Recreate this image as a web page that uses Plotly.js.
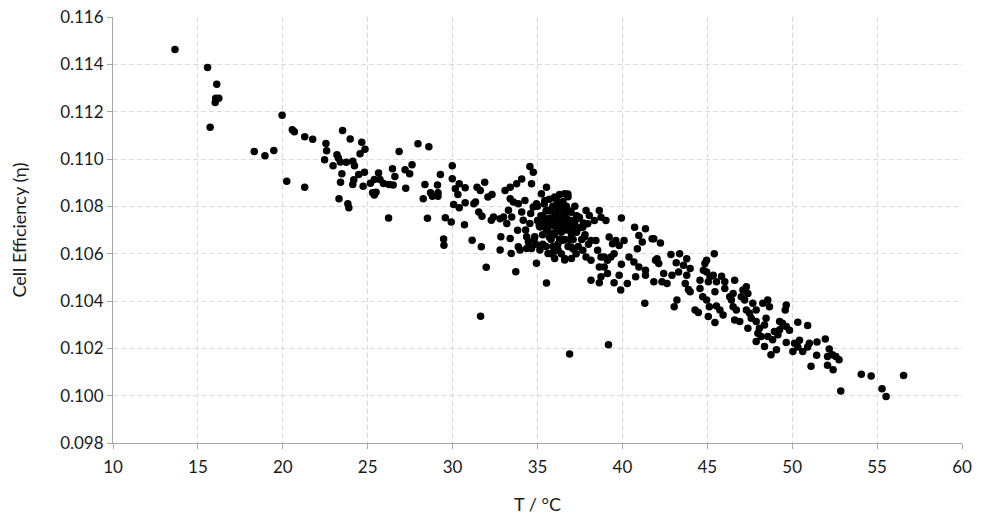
<!DOCTYPE html>
<html>
<head>
<meta charset="utf-8">
<script src="https://cdn.plot.ly/plotly-3.0.1.min.js"></script>
<style>html,body{margin:0;padding:0;background:#fff;}#chart{width:992px;height:526px;}</style>
</head>
<body>
<div id="chart"></div>
<script>
// Temperature (°C) and cell efficiency
const temperatureA = [13.65,15.57,16.11,16.23,16.05,16.02,15.72,19.96,20.56,20.68,21.29,21.76,22.54,22.58,22.46,18.32,18.95,19.47,20.23,21.29];
const efficiencyA  = [0.11463,0.11387,0.11316,0.11257,0.11257,0.11239,0.11134,0.11185,0.11124,0.11115,0.11094,0.11083,0.11066,0.11035,0.10997,0.11032,0.11014,0.11036,0.10906,0.10881];

const temperatureB = [23.52,23.97,24.65,24.84,24.55,23.19,23.27,22.96,23.39,23.74,24.12,24.22,23.48,23.40,24.18,24.12,24.47,24.81,24.73,23.31,23.83,23.89,
  25.16,25.39,25.64,25.72,25.93,25.29,25.49,25.39,26.26,26.50,26.60,26.46,26.85,27.20,27.47,27.61,27.24,26.23,
  27.96,28.60,28.37,28.27,28.70,28.81,29.11,29.14,29.14,29.28,28.52,29.57,29.92,29.47,29.49,
  29.98,29.98,30.39,30.16,30.31,30.74,30.74,30.06,30.39,30.70];
const efficiencyB  = [0.1112,0.11085,0.11071,0.11041,0.11022,0.11018,0.11004,0.10972,0.10987,0.10986,0.1099,0.10972,0.10938,0.10902,0.10912,0.10892,0.10934,0.10944,0.10885,0.10832,0.10811,0.10794,
  0.10898,0.10913,0.10941,0.10913,0.10897,0.10857,0.1086,0.10848,0.10892,0.1089,0.10926,0.10959,0.11032,0.10955,0.10938,0.10976,0.10876,0.10751,
  0.11064,0.11052,0.10892,0.10832,0.10857,0.10843,0.1089,0.10857,0.10843,0.10934,0.1075,0.10752,0.10734,0.10662,0.10636,
  0.10972,0.10917,0.10895,0.10874,0.1085,0.10878,0.10815,0.10808,0.10794,0.10722];

const temperatureC = [31.15,31.69,31.98,31.65,31.35,31.44,31.63,31.89,32.08,32.32,31.25,31.54,31.73,32.28,32.41,
  32.84,32.80,33.39,33.45,33.72,33.87,33.97,34.36,34.46,34.36,34.65,34.94,35.53,34.84,33.83,33.48,32.80,33.00,33.19,33.29,
  33.09,33.39,33.39,33.58,33.77,33.87,34.07,34.26,34.07,34.16,34.55,34.55,34.75,34.65,34.75,34.94,35.14,35.14,
  35.23,35.53,35.43,35.62,35.72,35.82,35.62,36.01,36.21,36.01,36.21,36.40,36.60,36.21,36.01,36.60,36.50,36.60,35.33,35.53];
const efficiencyC  = [0.10657,0.10629,0.10543,0.10336,0.10818,0.10881,0.10867,0.10902,0.10839,0.1085,0.10811,0.10776,0.10758,0.10741,0.10755,
  0.10671,0.10615,0.10664,0.10601,0.10524,0.10629,0.10615,0.10671,0.1065,0.10622,0.10622,0.10559,0.10476,0.10671,0.10699,0.10755,0.10748,0.10755,0.10727,0.10783,
  0.10867,0.10881,0.10832,0.10818,0.10895,0.10811,0.10916,0.10825,0.10776,0.10741,0.10727,0.10968,0.10944,0.10895,0.10797,0.10811,0.10713,0.10615,
  0.10853,0.10881,0.10825,0.10783,0.10741,0.10685,0.10601,0.1058,0.10615,0.10839,0.10797,0.10755,0.10713,0.10713,0.10755,0.10853,0.10657,0.10573,0.10755,0.10699];

const temperatureD = [36.89,39.18,41.32,36.79,36.98,37.08,36.98,37.28,37.18,37.47,37.67,37.86,38.05,37.96,38.15,37.76,37.67,37.86,38.15,38.35,
  38.44,38.64,38.74,38.54,38.74,38.64,39.03,39.22,39.42,39.61,39.81,40.10,39.94,38.93,39.12,39.32,39.51,38.93,39.12,38.74,
  38.15,38.64,39.51,39.81,39.90,40.29,39.94,40.39,40.72,40.97,41.36,41.17,41.75,40.88,40.68,40.78,40.97,41.36,41.36,41.85,41.85,41.95];
const efficiencyD  = [0.10176,0.10215,0.1039,0.10852,0.10775,0.10698,0.10628,0.106,0.10733,0.10754,0.10712,0.10782,0.10761,0.10726,0.10656,0.1067,0.10614,0.10586,0.10572,0.1074,
  0.10656,0.10782,0.10754,0.10614,0.10586,0.10544,0.1074,0.1067,0.10642,0.10656,0.10635,0.10656,0.10751,0.10586,0.10572,0.10586,0.106,0.10544,0.10516,0.10502,
  0.10488,0.10477,0.10477,0.10509,0.10446,0.10474,0.10555,0.10586,0.10712,0.10677,0.10705,0.10649,0.10663,0.10621,0.10565,0.10502,0.10544,0.1053,0.10509,0.10481,0.10663,0.10572];

const temperatureE = [42.24,42.04,42.14,42.86,43.37,43.17,43.79,43.60,43.99,42.43,42.92,43.31,42.33,42.63,43.79,43.70,43.89,43.99,43.21,43.05,
  44.28,44.47,45.06,45.45,44.57,44.57,44.86,44.96,44.77,44.96,45.16,45.06,45.35,45.41,45.54,45.84,46.03,46.03,45.45,44.73,
  44.96,45.12,45.54,45.74,45.93,46.61,46.32,46.52,46.42,46.52,46.71,46.61,46.91,47.00,47.10,47.30,47.20,47.39,47.30,47.49,
  47.68,47.88,47.39,47.59,47.88,48.27,48.56,48.66,48.46,48.37,48.07,47.98,48.17,47.88,48.37,48.75,48.56,48.95,48.85];
const efficiencyE  = [0.10645,0.10579,0.10558,0.10597,0.106,0.10562,0.10579,0.10551,0.10537,0.10516,0.10509,0.10523,0.10481,0.10474,0.10509,0.10474,0.10449,0.10439,0.10404,0.10376,
  0.10362,0.10351,0.10334,0.10309,0.10453,0.10488,0.10558,0.10572,0.1053,0.10523,0.10502,0.10481,0.10509,0.106,0.10481,0.10505,0.10481,0.10453,0.10439,0.10418,
  0.10404,0.10376,0.10379,0.10362,0.10341,0.10488,0.10418,0.10432,0.10404,0.10376,0.10362,0.1032,0.10313,0.10418,0.10446,0.1046,0.10404,0.10432,0.10362,0.10348,
  0.1039,0.10362,0.10285,0.10327,0.10313,0.1039,0.10404,0.10376,0.10327,0.10299,0.10285,0.10264,0.1025,0.10229,0.10208,0.10173,0.1025,0.10271,0.10236];

const temperatureF = [49.65,49.59,49.26,49.42,49.26,49.16,49.07,50.33,50.91,49.65,49.84,49.65,50.14,50.43,50.04,50.33,50.62,50.91,51.01,51.46,
  51.95,51.44,51.11,52.18,52.08,52.37,52.57,52.76,52.08,52.41,52.86,54.07,54.65,56.56,55.29,55.53];
const efficiencyF  = [0.10383,0.10362,0.10313,0.10306,0.10278,0.10257,0.10194,0.1031,0.10297,0.10292,0.10276,0.10225,0.10222,0.10234,0.10187,0.10206,0.10187,0.10206,0.10222,0.10227,
  0.10239,0.10171,0.10124,0.10197,0.10166,0.10173,0.10166,0.10152,0.10129,0.1011,0.1002,0.1009,0.10083,0.10085,0.10029,0.09996];

// dense core around 34–38 °C
const temperatureG = [35.5,35.7,35.9,36.1,36.3,36.5,36.7,36.9,35.6,35.8,36.0,36.2,36.4,36.6,36.8,35.9,36.1,36.3,36.5,36.7,
  36.9,37.0,36.0,36.4,36.9,37.1,35.3,35.5,36.2,36.6,35.7,35.4,37.2,37.3,36.8,36.4,35.8,36.6,37.0,
  35.2,35.4,35.6,35.8,36.0,36.2,36.4,36.6,36.8,37.0,37.2,37.4,35.3,35.5,35.7,35.9,36.1,36.3,36.5,36.7,36.9,37.1,37.3,37.5,35.1,34.9,35.0,37.6,37.4,
  34.3,34.6,34.8,35.0,37.8,38.0,37.7,34.5];
const efficiencyG  = [0.1078,0.1075,0.1080,0.1077,0.1073,0.1079,0.1075,0.1070,0.1070,0.1066,0.1068,0.1064,0.1069,0.1066,0.1063,0.1072,0.1083,0.1085,0.1082,0.1080,
  0.1078,0.1074,0.1061,0.1060,0.1066,0.1062,0.1068,0.1063,0.1070,0.1072,0.1083,0.1073,0.1080,0.1069,0.1084,0.1076,0.1060,0.1058,0.1058,
  0.1076,0.1081,0.1072,0.1078,0.1074,0.1081,0.1079,0.1077,0.1072,0.1068,0.1072,0.1075,0.1064,0.1071,0.1067,0.1063,0.1070,0.1066,0.1073,0.1070,0.1074,0.1066,0.1076,0.1071,0.1072,0.1064,0.1080,0.1066,0.1063,
  0.1070,0.1077,0.1066,0.1074,0.1068,0.1064,0.1073,0.1063];

const xTickVals = [10,15,20,25,30,35,40,45,50,55,60];
const yTickVals = [0.098,0.100,0.102,0.104,0.106,0.108,0.110,0.112,0.114,0.116];

const temperature = [].concat(temperatureA, temperatureB, temperatureC, temperatureD, temperatureE, temperatureF, temperatureG);
const efficiency  = [].concat(efficiencyA, efficiencyB, efficiencyC, efficiencyD, efficiencyE, efficiencyF, efficiencyG);

const font = 'Lato, "Open Sans", "Liberation Sans", sans-serif';
const txt = '#1a1a1a';
const trace = {
  x: temperature, y: efficiency, type: 'scatter', mode: 'markers',
  marker: {color: '#000000', size: 7.5}, hoverinfo: 'x+y'
};
const layout = {
  width: 992, height: 526,
  margin: {l: 113, r: 30, t: 17, b: 83},
  paper_bgcolor: '#ffffff', plot_bgcolor: '#ffffff',
  showlegend: false,
  font: {family: font, size: 17, color: txt},
  xaxis: {
    range: [10, 60], tickvals: xTickVals, ticktext: xTickVals.map(String),
    showgrid: true, gridcolor: '#d9d9d9', griddash: '5px,3px', gridwidth: 1,
    showline: true, linecolor: '#a6a6a6', linewidth: 1,
    ticks: 'outside', ticklen: 5, tickcolor: '#a6a6a6',
    ticklabelstandoff: 4,
    zeroline: false, automargin: false,
    tickfont: {family: font, size: 17, color: txt},
    title: {text: 'T / °C', font: {family: font, size: 18, color: txt}, standoff: 21}
  },
  yaxis: {
    range: [0.098, 0.116], tickvals: yTickVals, ticktext: yTickVals.map(v => v.toFixed(3)),
    showgrid: true, gridcolor: '#d9d9d9', griddash: '5px,3px', gridwidth: 1,
    showline: true, linecolor: '#a6a6a6', linewidth: 1,
    ticks: 'outside', ticklen: 5, tickcolor: '#a6a6a6',
    zeroline: false, automargin: false,
    tickfont: {family: font, size: 17, color: txt},
    title: {text: 'Cell Efficiency (η)', font: {family: font, size: 18, color: txt}, standoff: 28}
  }
};
Plotly.newPlot('chart', [trace], layout, {displayModeBar: false, staticPlot: true});
</script>
</body>
</html>
